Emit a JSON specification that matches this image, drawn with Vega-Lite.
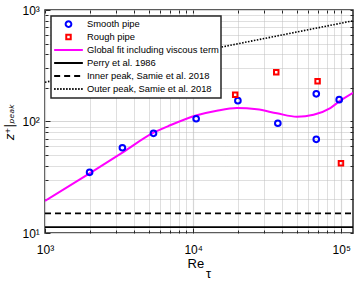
{
  "$schema": "https://vega.github.io/schema/vega-lite/v6.json",
  "width": 308,
  "height": 223,
  "autosize": {"type": "none"},
  "padding": {"left": 45, "top": 10, "right": 1, "bottom": 49},
  "background": "white",
  "config": {
    "view": {"stroke": "#262626", "strokeWidth": 1.5},
    "font": "Liberation Sans",
    "axis": {
      "labelFont": "Liberation Sans",
      "labelFontSize": 12,
      "labelColor": "black",
      "titleFont": "Liberation Sans",
      "titleFontWeight": "normal",
      "titleColor": "black",
      "tickColor": "#262626",
      "tickWidth": 1,
      "domain": false
    },
    "legend": {
      "orient": "top-left",
      "offset": 6,
      "fillColor": "white",
      "strokeColor": "#262626",
      "strokeWidth": 1.5,
      "padding": 2,
      "rowPadding": 0,
      "clipHeight": 12.2,
      "labelFont": "Liberation Sans",
      "labelFontSize": 9.4,
      "labelColor": "black",
      "labelOffset": 3,
      "labelLimit": 200,
      "symbolStrokeWidth": 2,
      "symbolOffset": 0
    }
  },
  "datasets": {
    "pts": [
      {"s": "Smooth pipe", "x": 2000, "y": 35.0},
      {"s": "Smooth pipe", "x": 3330, "y": 58.2},
      {"s": "Smooth pipe", "x": 5400, "y": 78.3},
      {"s": "Smooth pipe", "x": 10480, "y": 105.9},
      {"s": "Smooth pipe", "x": 20050, "y": 153.8},
      {"s": "Smooth pipe", "x": 37300, "y": 96.4},
      {"s": "Smooth pipe", "x": 67800, "y": 177},
      {"s": "Smooth pipe", "x": 67800, "y": 69.2},
      {"s": "Smooth pipe", "x": 96800, "y": 157},
      {"s": "Rough pipe", "x": 19230, "y": 174},
      {"s": "Rough pipe", "x": 36400, "y": 276},
      {"s": "Rough pipe", "x": 69200, "y": 229.6},
      {"s": "Rough pipe", "x": 99500, "y": 42.2}
    ],
    "fit": [
      {"s": "Global fit including viscous term", "x": 1000, "y": 19.4},
      {"s": "Global fit including viscous term", "x": 2000, "y": 34.3},
      {"s": "Global fit including viscous term", "x": 3330, "y": 52.5},
      {"s": "Global fit including viscous term", "x": 5400, "y": 79.3},
      {"s": "Global fit including viscous term", "x": 7000, "y": 92.5},
      {"s": "Global fit including viscous term", "x": 10590, "y": 113.8},
      {"s": "Global fit including viscous term", "x": 14450, "y": 125},
      {"s": "Global fit including viscous term", "x": 19720, "y": 132},
      {"s": "Global fit including viscous term", "x": 26920, "y": 128.5},
      {"s": "Global fit including viscous term", "x": 36800, "y": 118.5},
      {"s": "Global fit including viscous term", "x": 50200, "y": 110.4},
      {"s": "Global fit including viscous term", "x": 65000, "y": 115.1},
      {"s": "Global fit including viscous term", "x": 84300, "y": 132},
      {"s": "Global fit including viscous term", "x": 98500, "y": 153.8},
      {"s": "Global fit including viscous term", "x": 120000, "y": 181}
    ],
    "refs": [
      {"s": "Perry et al. 1986", "x": 1000, "y": 11.3},
      {"s": "Perry et al. 1986", "x": 120000, "y": 11.3},
      {"s": "Inner peak, Samie et al. 2018", "x": 1000, "y": 15},
      {"s": "Inner peak, Samie et al. 2018", "x": 120000, "y": 15},
      {"s": "Outer peak, Samie et al. 2018", "x": 1000, "y": 225},
      {"s": "Outer peak, Samie et al. 2018", "x": 120000, "y": 800}
    ]
  },
  "resolve": {"axis": {"x": "independent", "y": "independent"}},
  "layer": [
    {
      "data": {"name": "refs"},
      "mark": {"type": "line", "strokeWidth": 1.6, "clip": true},
      "encoding": {
        "x": {
          "field": "x", "type": "quantitative",
          "scale": {"type": "log", "domain": [1000, 120000], "nice": false},
          "axis": {
            "orient": "bottom",
            "values": [1000, 10000, 100000],
            "grid": true,
            "gridColor": "#d6d6d6",
            "gridWidth": 1.2,
            "tickSize": -5,
            "labelExpr": "datum.value === 1000 ? '10³' : datum.value === 10000 ? '10⁴' : '10⁵'",
            "labelPadding": 16.5,
            "labelOverlap": false,
            "labelFlush": false,
            "title": ["Re\u00a0\u00a0\u200b", "\u200b\u00a0\u00a0\u00a0\u00a0\u00a0τ"],
            "titleFontSize": 13,
            "titleLineHeight": 10.2,
            "titlePadding": 1.5
          }
        },
        "y": {
          "field": "y", "type": "quantitative",
          "scale": {"type": "log", "domain": [10, 1000], "nice": false},
          "axis": {
            "orient": "left",
            "values": [10, 100, 1000],
            "grid": true,
            "gridColor": "#d6d6d6",
            "gridWidth": 1.2,
            "tickSize": -5,
            "labelExpr": "datum.value === 10 ? '10¹' : datum.value === 100 ? '10²' : '10³'",
            "labelPadding": 10.7,
            "labelOverlap": false,
            "labelFlush": false,
            "title": "z⁺|ₚₑₐₖ",
            "titleFont": "DejaVu Sans",
            "titleFontSize": 12,
            "titleFontStyle": "italic",
            "titlePadding": 5
          }
        },
        "color": {
          "field": "s", "type": "nominal", "title": null,
          "scale": {
            "domain": ["Smooth pipe", "Rough pipe", "Global fit including viscous term", "Perry et al. 1986", "Inner peak, Samie et al. 2018", "Outer peak, Samie et al. 2018"],
            "range": ["#0000ff", "#ff0000", "#ff00ff", "#000000", "#000000", "#000000"]
          }
        },
        "strokeDash": {
          "field": "s", "type": "nominal", "title": null,
          "scale": {
            "domain": ["Smooth pipe", "Rough pipe", "Global fit including viscous term", "Perry et al. 1986", "Inner peak, Samie et al. 2018", "Outer peak, Samie et al. 2018"],
            "range": [[1, 0], [1, 0], [1, 0], [1, 0], [6, 4], [1.5, 1.5]]
          }
        }
      }
    },
    {
      "data": {"name": "fit"},
      "mark": {"type": "line", "strokeWidth": 2, "interpolate": "monotone", "clip": true},
      "encoding": {
        "x": {
          "field": "x", "type": "quantitative",
          "axis": {
            "orient": "bottom",
            "values": [2000,3000,4000,5000,6000,7000,8000,9000,20000,30000,40000,50000,60000,70000,80000,90000],
            "grid": true,
            "gridColor": "#bebebe",
            "gridDash": [1, 1],
            "gridWidth": 1,
            "tickSize": -3,
            "labels": false,
            "title": null
          }
        },
        "y": {
          "field": "y", "type": "quantitative",
          "axis": {
            "orient": "left",
            "values": [20,30,40,50,60,70,80,90,200,300,400,500,600,700,800,900],
            "grid": true,
            "gridColor": "#bebebe",
            "gridDash": [1, 1],
            "gridWidth": 1,
            "tickSize": -3,
            "labels": false,
            "title": null
          }
        },
        "color": {
          "field": "s", "type": "nominal", "title": null,
          "scale": {
            "domain": ["Smooth pipe", "Rough pipe", "Global fit including viscous term", "Perry et al. 1986", "Inner peak, Samie et al. 2018", "Outer peak, Samie et al. 2018"],
            "range": ["#0000ff", "#ff0000", "#ff00ff", "#000000", "#000000", "#000000"]
          }
        }
      }
    },
    {
      "data": {"name": "pts"},
      "mark": {"type": "point", "filled": false, "strokeWidth": 2, "opacity": 1},
      "encoding": {
        "x": {
          "field": "x", "type": "quantitative",
          "axis": {
            "orient": "top",
            "values": [1000,2000,3000,4000,5000,6000,7000,8000,9000,10000,20000,30000,40000,50000,60000,70000,80000,90000,100000],
            "grid": false, "labels": false, "title": null,
            "tickSize": -3
          }
        },
        "y": {
          "field": "y", "type": "quantitative",
          "axis": {
            "orient": "right",
            "values": [10,20,30,40,50,60,70,80,90,100,200,300,400,500,600,700,800,900,1000],
            "grid": false, "labels": false, "title": null,
            "tickSize": -3
          }
        },
        "color": {
          "field": "s", "type": "nominal", "title": null,
          "scale": {
            "domain": ["Smooth pipe", "Rough pipe", "Global fit including viscous term", "Perry et al. 1986", "Inner peak, Samie et al. 2018", "Outer peak, Samie et al. 2018"],
            "range": ["#0000ff", "#ff0000", "#ff00ff", "#000000", "#000000", "#000000"]
          }
        },
        "shape": {
          "field": "s", "type": "nominal", "title": null,
          "scale": {
            "domain": ["Smooth pipe", "Rough pipe", "Global fit including viscous term", "Perry et al. 1986", "Inner peak, Samie et al. 2018", "Outer peak, Samie et al. 2018"],
            "range": ["circle", "square", "stroke", "stroke", "stroke", "stroke"]
          }
        },
        "size": {
          "field": "s", "type": "nominal", "title": null,
          "scale": {
            "type": "ordinal",
            "domain": ["Smooth pipe", "Rough pipe", "Global fit including viscous term", "Perry et al. 1986", "Inner peak, Samie et al. 2018", "Outer peak, Samie et al. 2018"],
            "range": [32, 20, 824, 824, 824, 824]
          }
        }
      }
    }
  ]
}
